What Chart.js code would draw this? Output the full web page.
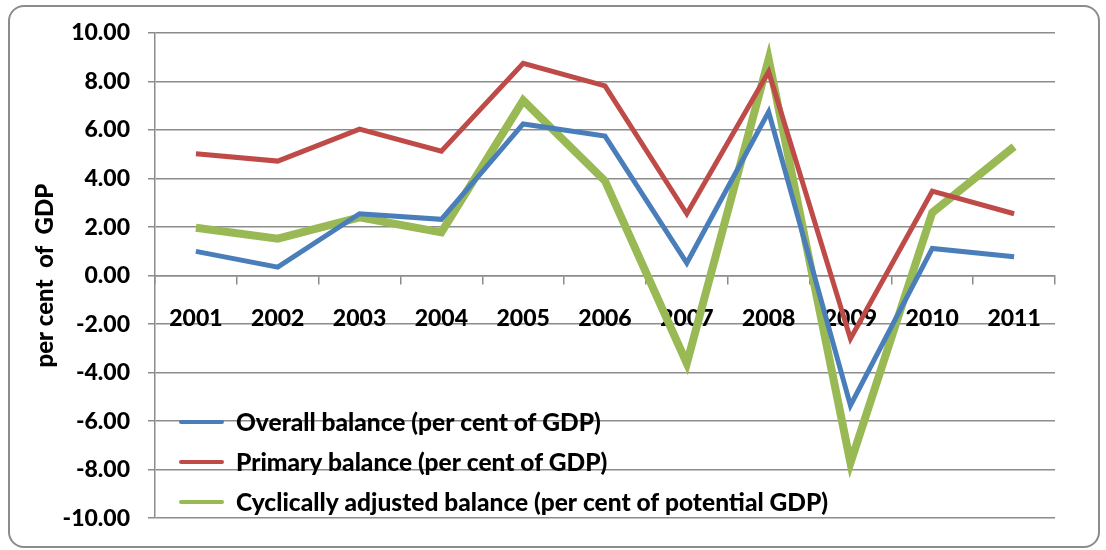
<!DOCTYPE html>
<html>
<head>
<meta charset="utf-8">
<script src="https://cdn.jsdelivr.net/npm/chart.js@4"></script>
<style>
  html, body { margin: 0; padding: 0; background: #fff; }
  #frame { position: absolute; left: 8px; top: 5px; width: 1088px; height: 539px;
           border: 2px solid #8c8c8c; border-radius: 16px; }
  #chart { position: absolute; left: 0; top: 0; }
</style>
</head>
<body>
<div id="frame"></div>
<canvas id="chart" width="1106" height="550"></canvas>
<script>
const years = ['2001', '2002', '2003', '2004', '2005', '2006', '2007', '2008', '2009', '2010', '2011'];
const overall = [1.00, 0.35, 2.55, 2.32, 6.25, 5.75, 0.52, 6.75, -5.35, 1.12, 0.78];
const primary = [5.02, 4.72, 6.04, 5.13, 8.75, 7.82, 2.55, 8.40, -2.60, 3.48, 2.55];
const cyclical = [1.97, 1.52, 2.40, 1.78, 7.22, 3.90, -3.62, 8.92, -7.72, 2.60, 5.32];

const font = 'Lato';
const weight = 900;
const gridColor = '#8c8c8c';

// legend drawn inside the plot, bottom left, like the Excel original
const insideLegend = {
    id: 'insideLegend',
    afterDatasetsDraw(chart) {
        const ctx = chart.ctx;
        ctx.save();
        ctx.font = weight + ' 24.5px ' + font;
        ctx.textBaseline = 'middle';
        ctx.fillStyle = '#000';
        chart.data.datasets.forEach((ds, i) => {
            const y = 422 + i * 40;
            ctx.strokeStyle = ds.borderColor;
            ctx.lineWidth = 4;
            ctx.lineCap = 'round';
            ctx.beginPath();
            ctx.moveTo(181, y);
            ctx.lineTo(222, y);
            ctx.stroke();
            ctx.fillText(ds.label, 236, y + 1);
        });
        ctx.restore();
    }
};

new Chart(document.getElementById('chart'), {
    type: 'line',
    data: {
        labels: years,
        datasets: [{
            label: 'Overall balance (per cent of GDP)',
            data: overall,
            borderColor: '#4a7ebb',
            borderWidth: 5,
            pointRadius: 0,
            tension: 0
        }, {
            label: 'Primary balance (per cent of GDP)',
            data: primary,
            borderColor: '#be4b48',
            borderWidth: 5,
            pointRadius: 0,
            tension: 0
        }, {
            label: 'Cyclically adjusted balance (per cent of potential GDP)',
            data: cyclical,
            borderColor: '#98b954',
            borderWidth: 8,
            pointRadius: 0,
            tension: 0
        }]
    },
    options: {
        responsive: false,
        animation: false,
        layout: {
            padding: { left: 0, top: 33, right: 51, bottom: 30 }
        },
        scales: {
            x: {
                position: { y: 0 },
                offset: true,
                grid: {
                    offset: true,
                    drawOnChartArea: false,
                    tickLength: 8,
                    color: gridColor,
                    lineWidth: 1.5
                },
                border: { display: true, color: gridColor, width: 1.5 },
                ticks: {
                    padding: 21,
                    color: '#000',
                    font: { family: font, size: 23, weight: weight },
                    maxRotation: 0
                }
            },
            y: {
                min: -10,
                max: 10,
                afterFit(scale) { scale.width = 155; },
                grid: {
                    color: gridColor,
                    lineWidth: 1.5,
                    tickLength: 7
                },
                border: { display: true, color: gridColor, width: 1.5 },
                ticks: {
                    stepSize: 2,
                    padding: 18,
                    color: '#000',
                    font: { family: font, size: 23, weight: weight },
                    callback: v => v.toFixed(2)
                },
                title: {
                    display: true,
                    text: 'per cent  of  GDP',
                    color: '#000',
                    padding: { top: 31, bottom: 0 },
                    font: { family: font, size: 24, weight: weight }
                }
            }
        },
        plugins: {
            legend: { display: false },
            tooltip: { enabled: false }
        }
    },
    plugins: [insideLegend]
});
</script>
</body>
</html>
